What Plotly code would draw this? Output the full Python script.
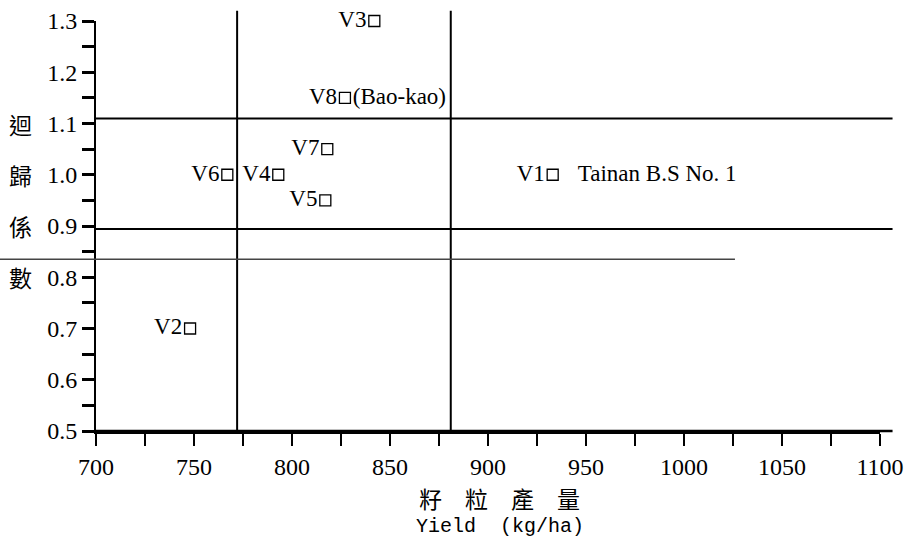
import plotly.graph_objects as go

# ---- data ----
varieties = ["V1", "V2", "V3", "V4", "V5", "V6", "V7", "V8"]
yield_kg_ha = [933, 748, 842, 793, 817, 767, 818, 827]
reg_coef = [1.00, 0.70, 1.30, 1.00, 0.95, 1.00, 1.05, 1.15]
notes = ["\u00a0\u00a0\u00a0Tainan B.S No. 1", "", "", "", "", "", "", "(Bao-kao)"]

mean_yield_lines = [772, 881]          # vertical reference lines (kg/ha)
coef_lines = [1.11, 0.894]             # horizontal reference lines
coef_line_broken = 0.835               # lighter broken line

x_ticks = [700, 750, 800, 850, 900, 950, 1000, 1050, 1100]
y_ticks = [0.5, 0.6, 0.7, 0.8, 0.9, 1.0, 1.1, 1.2, 1.3]
y_title_chars = ["迴", "歸", "係", "數"]
y_title_pos = [1.1, 1.0, 0.9, 0.8]
x_title_cn = "籽　粒　產　量"
x_title_en = "Yield  (kg/ha)"

SERIF = "Liberation Serif"
fig = go.Figure()

fig.add_trace(go.Scatter(
    x=yield_kg_ha, y=reg_coef, mode="markers+text",
    text=varieties, textposition="middle left",
    textfont=dict(family=SERIF, size=23, color="black"),
    marker=dict(symbol="square-open", size=11, color="black", line=dict(width=1.3)),
    cliponaxis=False, showlegend=False, hoverinfo="skip"))

nx = [x for x, n in zip(yield_kg_ha, notes) if n]
ny = [y for y, n in zip(reg_coef, notes) if n]
nt = [n for n in notes if n]
fig.add_trace(go.Scatter(
    x=nx, y=ny, mode="markers+text", text=nt, textposition="middle right",
    marker=dict(size=11, opacity=0),
    textfont=dict(family=SERIF, size=23, color="black"),
    cliponaxis=False, showlegend=False, hoverinfo="skip"))

shapes = []
for xv in mean_yield_lines:
    shapes.append(dict(type="line", xref="x", yref="paper", x0=xv, x1=xv, y0=0, y1=1.025,
                       line=dict(color="black", width=2)))
for yv in coef_lines:
    shapes.append(dict(type="line", xref="paper", yref="y", x0=0, x1=1.016, y0=yv, y1=yv,
                       line=dict(color="black", width=2)))
shapes.append(dict(type="line", xref="paper", yref="y", x0=-0.123, x1=0.815,
                   y0=coef_line_broken, y1=coef_line_broken,
                   line=dict(color="#444444", width=1.5)))
# extend x-axis line slightly beyond 1100
shapes.append(dict(type="line", xref="paper", yref="paper", x0=0, x1=1.016, y0=0, y1=0,
                   line=dict(color="black", width=2.5)))

annotations = []
for ch, yp in zip(y_title_chars, y_title_pos):
    annotations.append(dict(text=ch, xref="paper", yref="y", x=-0.096, y=yp,
                            xanchor="center", yanchor="middle", showarrow=False,
                            font=dict(family="Noto Sans CJK TC", size=23, color="black")))
annotations.append(dict(text=x_title_cn, xref="paper", yref="paper", x=0.515, y=-0.163,
                        xanchor="center", yanchor="middle", showarrow=False,
                        font=dict(family="Noto Sans CJK TC", size=23, color="black")))
annotations.append(dict(text=x_title_en, xref="paper", yref="paper", x=0.515, y=-0.232,
                        xanchor="center", yanchor="middle", showarrow=False,
                        font=dict(family="Liberation Mono", size=20, color="black")))

fig.update_layout(
    width=910, height=538,
    margin=dict(l=96, r=30, t=21, b=107, autoexpand=False),
    paper_bgcolor="white", plot_bgcolor="white",
    shapes=shapes, annotations=annotations,
    xaxis=dict(range=[700, 1100], tickvals=x_ticks, ticks="outside", ticklen=12,
               tickwidth=2, tickcolor="black", showline=True, linecolor="black", linewidth=2.5,
               showgrid=False, zeroline=False, automargin=False,
               tickfont=dict(family=SERIF, size=24, color="black"),
               minor=dict(dtick=25, tick0=700, ticks="outside", ticklen=12, tickwidth=2,
                          tickcolor="black", showgrid=False)),
    yaxis=dict(range=[0.5, 1.3], tickvals=y_ticks, ticktext=[f"{v:.1f}" for v in y_ticks],
               ticks="outside", ticklen=12, tickwidth=2, tickcolor="black",
               showline=True, linecolor="black", linewidth=2,
               showgrid=False, zeroline=False, automargin=False,
               tickfont=dict(family=SERIF, size=24, color="black"),
               minor=dict(dtick=0.05, tick0=0.5, ticks="outside", ticklen=12, tickwidth=2.5,
                          tickcolor="black", showgrid=False)),
)

fig.write_html("out.html", config={"displayModeBar": False},
               post_script="document.body.style.margin='0';")
